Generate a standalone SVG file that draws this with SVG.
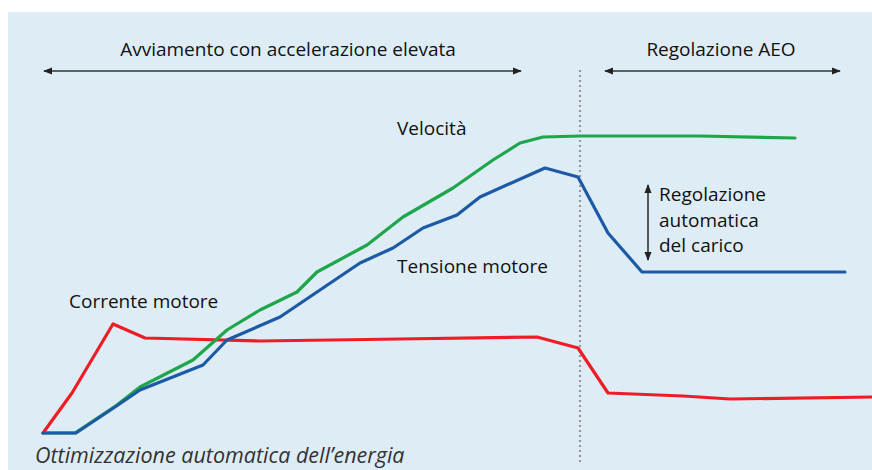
<svg xmlns="http://www.w3.org/2000/svg" width="872" height="470" viewBox="0 0 872 470">
<defs>
<marker id="ah" viewBox="0 0 10 10" refX="9" refY="5" markerWidth="9" markerHeight="9" markerUnits="userSpaceOnUse" orient="auto-start-reverse">
<path d="M0,1 L10,5 L0,9 Z" fill="#222"/>
</marker>
<style>
.t{font-family:"Open Sans","Liberation Sans",sans-serif;font-size:19px;fill:#111}
.i{font-family:"Open Sans","Liberation Sans",sans-serif;font-size:21.5px;font-style:italic;fill:#333}
.arr{stroke:#333;stroke-width:1.6;fill:none;marker-start:url(#ah);marker-end:url(#ah)}
.c{fill:none;stroke-width:3.2;stroke-linejoin:round;stroke-linecap:round}
</style>
</defs>
<rect width="872" height="470" fill="#ffffff"/>
<rect x="8" y="12" width="864" height="458" fill="#deecf6"/>
<g id="connectors">
<line class="arr" x1="44" y1="71" x2="521" y2="71"/>
<line class="arr" x1="605" y1="71" x2="840" y2="71"/>
<line class="arr" x1="648" y1="185" x2="648" y2="260"/>
<line x1="580" y1="70" x2="580" y2="464" stroke="#999" stroke-width="2.2" stroke-dasharray="2 3"/>
</g>
<g id="corrente">
<polyline class="c" stroke="#ee1d25" points="43,433 72,393 113,324 145,338 260,341 400,339 537,337 578,348 608,393 683,396 730,399 872,397"/>
</g>
<g id="velocita">
<polyline class="c" stroke="#1ea64b" points="43,433 75,433 117,405 140,387 193,360 227,330 260,310 297,292 317,272 367,245 403,217 453,188 493,160 520,143 543,137 580,136 700,136 795,138"/>
</g>
<g id="tensione">
<polyline class="c" stroke="#1c5aa5" points="43,433 76,433 115,407 140,390 203,365 227,340 280,317 360,263 393,248 423,228 457,215 480,197 545,168 578,177 608,233 642,272 845,272"/>
</g>
<g id="labels">
<text class="t" x="288" y="56" text-anchor="middle">Avviamento con accelerazione elevata</text>
<text class="t" x="721" y="56" text-anchor="middle">Regolazione AEO</text>
<text class="t" x="397" y="135">Velocità</text>
<text class="t" x="397" y="273">Tensione motore</text>
<text class="t" x="69" y="308">Corrente motore</text>
<text class="t" x="659" y="201">Regolazione</text>
<text class="t" x="659" y="227">automatica</text>
<text class="t" x="659" y="252">del carico</text>
<text class="i" x="35" y="463">Ottimizzazione automatica dell’energia</text>
</g>
</svg>
